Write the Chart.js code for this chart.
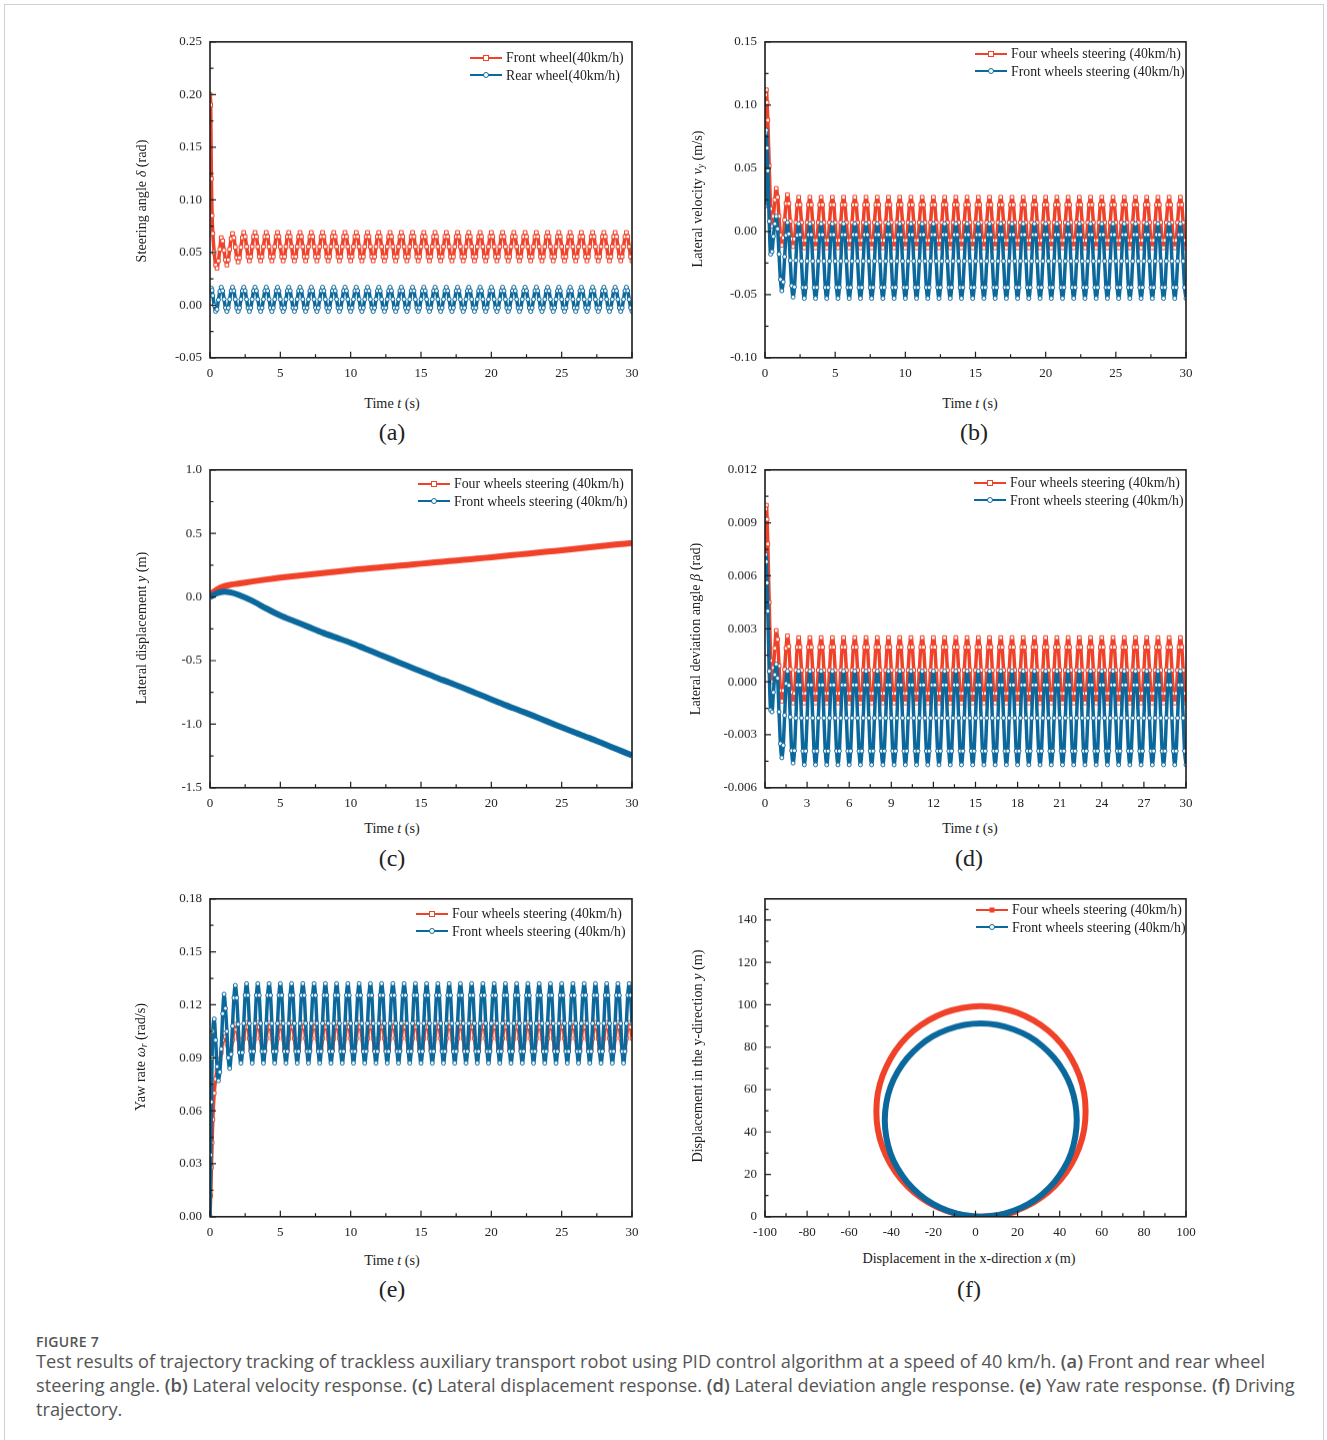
<!DOCTYPE html>
<html>
<head>
<meta charset="utf-8">
<script src="https://cdn.jsdelivr.net/npm/chart.js@4.4.1/dist/chart.umd.min.js"></script>
<style>
  body { margin:0; background:#fff; width:1327px; height:1440px; position:relative; overflow:hidden; font-family:"Liberation Serif", serif; }
  .box { position:absolute; left:4px; top:4px; width:1318px; height:1480px; border:1px solid #d0d0d0; }
  canvas { position:absolute; }
  .t { position:absolute; font-size:14.2px; color:#222; white-space:nowrap; transform:translate(-50%,-50%); }
  .yt { transform:translate(-50%,-50%) rotate(-90deg); }
  .t sub { font-size:9.5px; vertical-align:-2px; line-height:0; }
  .pl { position:absolute; font-size:24px; color:#222; transform:translate(-50%,-50%); }
  .lg { position:absolute; font-size:13.8px; color:#222; line-height:17.5px; }
  .lg div { display:flex; align-items:center; white-space:nowrap; height:17.5px; }
  .lg svg { margin-right:4px; }
  .cap { position:absolute; left:36px; font-family:"Open Sans", sans-serif; color:#555; white-space:nowrap; }
  .cap b { font-weight:600; }
</style>
</head>
<body>
<div class="box"></div>

<canvas id="ca"></canvas>
<canvas id="cb"></canvas>
<canvas id="cc"></canvas>
<canvas id="cd"></canvas>
<canvas id="ce"></canvas>
<canvas id="cf"></canvas>

<!-- axis titles -->
<div class="t yt" style="left:141px;top:201px">Steering angle <i>δ</i> (rad)</div>
<div class="t yt" style="left:697px;top:199px">Lateral velocity <i>v<sub>y</sub></i> (m/s)</div>
<div class="t yt" style="left:141px;top:628px">Lateral displacement <i>y</i> (m)</div>
<div class="t yt" style="left:695px;top:629px">Lateral deviation angle <i>β</i> (rad)</div>
<div class="t yt" style="left:140px;top:1057px">Yaw rate <i>ω<sub>r</sub></i> (rad/s)</div>
<div class="t yt" style="left:697px;top:1056px">Displacement in the y-direction <i>y</i> (m)</div>

<div class="t" style="left:392px;top:403px">Time <i>t</i> (s)</div>
<div class="t" style="left:970px;top:403px">Time <i>t</i> (s)</div>
<div class="t" style="left:392px;top:828px">Time <i>t</i> (s)</div>
<div class="t" style="left:970px;top:828px">Time <i>t</i> (s)</div>
<div class="t" style="left:392px;top:1260px">Time <i>t</i> (s)</div>
<div class="t" style="left:969px;top:1258px">Displacement in the x-direction <i>x</i> (m)</div>

<div class="pl" style="left:392px;top:432px">(a)</div>
<div class="pl" style="left:974px;top:432px">(b)</div>
<div class="pl" style="left:392px;top:858px">(c)</div>
<div class="pl" style="left:969px;top:858px">(d)</div>
<div class="pl" style="left:392px;top:1289px">(e)</div>
<div class="pl" style="left:969px;top:1289px">(f)</div>

<div class="cap" style="top:1332px;font-size:14px;font-weight:600;letter-spacing:0.3px">FIGURE 7</div>
<div class="cap" style="top:1349px;font-size:18.2px;line-height:24px">Test results of trajectory tracking of trackless auxiliary transport robot using PID control algorithm at a speed of 40 km/h. <b>(a)</b> Front and rear wheel<br>steering angle. <b>(b)</b> Lateral velocity response. <b>(c)</b> Lateral displacement response. <b>(d)</b> Lateral deviation angle response. <b>(e)</b> Yaw rate response. <b>(f)</b> Driving<br>trajectory.</div>

<script>
// sample instants (s), shared by panels a, b, d, e
const timeS = [
  0,0.05,0.1,0.15,0.2,0.3,0.4,0.5,0.6,0.7,
  0.8,0.9,1.0,1.1,1.2,1.3,1.4,1.5,1.6,1.7,1.8,1.9,2.0,2.1,2.2,2.3,
  2.4,2.5,2.6,2.7,2.8,2.9,3.0,3.1,3.2,3.3,3.4,3.5,3.6,3.7,3.8,3.9,
  4.0,4.1,4.2,4.3,4.4,4.5,4.6,4.7,4.8,4.9,5.0,5.1,5.2,5.3,5.4,5.5,
  5.6,5.7,5.8,5.9,6.0,6.1,6.2,6.3,6.4,6.5,6.6,6.7,6.8,6.9,7.0,7.1,
  7.2,7.3,7.4,7.5,7.6,7.7,7.8,7.9,8.0,8.1,8.2,8.3,8.4,8.5,8.6,8.7,
  8.8,8.9,9.0,9.1,9.2,9.3,9.4,9.5,9.6,9.7,9.8,9.9,10.0,10.1,10.2,10.3,
  10.4,10.5,10.6,10.7,10.8,10.9,11.0,11.1,11.2,11.3,11.4,11.5,11.6,11.7,11.8,11.9,
  12.0,12.1,12.2,12.3,12.4,12.5,12.6,12.7,12.8,12.9,13.0,13.1,13.2,13.3,13.4,13.5,
  13.6,13.7,13.8,13.9,14.0,14.1,14.2,14.3,14.4,14.5,14.6,14.7,14.8,14.9,15.0,15.1,
  15.2,15.3,15.4,15.5,15.6,15.7,15.8,15.9,16.0,16.1,16.2,16.3,16.4,16.5,16.6,16.7,
  16.8,16.9,17.0,17.1,17.2,17.3,17.4,17.5,17.6,17.7,17.8,17.9,18.0,18.1,18.2,18.3,
  18.4,18.5,18.6,18.7,18.8,18.9,19.0,19.1,19.2,19.3,19.4,19.5,19.6,19.7,19.8,19.9,
  20.0,20.1,20.2,20.3,20.4,20.5,20.6,20.7,20.8,20.9,21.0,21.1,21.2,21.3,21.4,21.5,
  21.6,21.7,21.8,21.9,22.0,22.1,22.2,22.3,22.4,22.5,22.6,22.7,22.8,22.9,23.0,23.1,
  23.2,23.3,23.4,23.5,23.6,23.7,23.8,23.9,24.0,24.1,24.2,24.3,24.4,24.5,24.6,24.7,
  24.8,24.9,25.0,25.1,25.2,25.3,25.4,25.5,25.6,25.7,25.8,25.9,26.0,26.1,26.2,26.3,
  26.4,26.5,26.6,26.7,26.8,26.9,27.0,27.1,27.2,27.3,27.4,27.5,27.6,27.7,27.8,27.9,
  28.0,28.1,28.2,28.3,28.4,28.5,28.6,28.7,28.8,28.9,29.0,29.1,29.2,29.3,29.4,29.5,
  29.6,29.7,29.8,29.9,30.0
];

// (a) steering angle (rad)
const aFront = [
  0.200,0.190,0.120,0.085,0.068,0.050,0.038,0.035,0.042,0.053,
  0.064,0.061,0.052,0.043,0.038,0.043,0.053,0.063,0.068,0.064,0.055,0.045,0.041,0.045,0.055,0.064,
  0.069,0.065,0.0555,0.046,0.042,0.046,0.0555,0.065,0.069,0.065,0.0555,0.046,0.042,0.046,0.0555,0.065,
  0.069,0.065,0.0555,0.046,0.042,0.046,0.0555,0.065,0.069,0.065,0.0555,0.046,0.042,0.046,0.0555,0.065,
  0.069,0.065,0.0555,0.046,0.042,0.046,0.0555,0.065,0.069,0.065,0.0555,0.046,0.042,0.046,0.0555,0.065,
  0.069,0.065,0.0555,0.046,0.042,0.046,0.0555,0.065,0.069,0.065,0.0555,0.046,0.042,0.046,0.0555,0.065,
  0.069,0.065,0.0555,0.046,0.042,0.046,0.0555,0.065,0.069,0.065,0.0555,0.046,0.042,0.046,0.0555,0.065,
  0.069,0.065,0.0555,0.046,0.042,0.046,0.0555,0.065,0.069,0.065,0.0555,0.046,0.042,0.046,0.0555,0.065,
  0.069,0.065,0.0555,0.046,0.042,0.046,0.0555,0.065,0.069,0.065,0.0555,0.046,0.042,0.046,0.0555,0.065,
  0.069,0.065,0.0555,0.046,0.042,0.046,0.0555,0.065,0.069,0.065,0.0555,0.046,0.042,0.046,0.0555,0.065,
  0.069,0.065,0.0555,0.046,0.042,0.046,0.0555,0.065,0.069,0.065,0.0555,0.046,0.042,0.046,0.0555,0.065,
  0.069,0.065,0.0555,0.046,0.042,0.046,0.0555,0.065,0.069,0.065,0.0555,0.046,0.042,0.046,0.0555,0.065,
  0.069,0.065,0.0555,0.046,0.042,0.046,0.0555,0.065,0.069,0.065,0.0555,0.046,0.042,0.046,0.0555,0.065,
  0.069,0.065,0.0555,0.046,0.042,0.046,0.0555,0.065,0.069,0.065,0.0555,0.046,0.042,0.046,0.0555,0.065,
  0.069,0.065,0.0555,0.046,0.042,0.046,0.0555,0.065,0.069,0.065,0.0555,0.046,0.042,0.046,0.0555,0.065,
  0.069,0.065,0.0555,0.046,0.042,0.046,0.0555,0.065,0.069,0.065,0.0555,0.046,0.042,0.046,0.0555,0.065,
  0.069,0.065,0.0555,0.046,0.042,0.046,0.0555,0.065,0.069,0.065,0.0555,0.046,0.042,0.046,0.0555,0.065,
  0.069,0.065,0.0555,0.046,0.042,0.046,0.0555,0.065,0.069,0.065,0.0555,0.046,0.042,0.046,0.0555,0.065,
  0.069,0.065,0.0555,0.046,0.042,0.046,0.0555,0.065,0.069,0.065,0.0555,0.046,0.042,0.046,0.0555,0.065,
  0.069,0.065,0.0555,0.046,0.042
];
const aRear = [
  0.010,0.014,0.016,0.014,0.009,0.000,-0.006,-0.004,0.005,0.013,
  0.017,0.0136,0.0055,-0.0026,-0.006,-0.0026,0.0055,0.0136,0.017,0.0136,0.0055,-0.0026,-0.006,-0.0026,0.0055,0.0136,
  0.017,0.0136,0.0055,-0.0026,-0.006,-0.0026,0.0055,0.0136,0.017,0.0136,0.0055,-0.0026,-0.006,-0.0026,0.0055,0.0136,
  0.017,0.0136,0.0055,-0.0026,-0.006,-0.0026,0.0055,0.0136,0.017,0.0136,0.0055,-0.0026,-0.006,-0.0026,0.0055,0.0136,
  0.017,0.0136,0.0055,-0.0026,-0.006,-0.0026,0.0055,0.0136,0.017,0.0136,0.0055,-0.0026,-0.006,-0.0026,0.0055,0.0136,
  0.017,0.0136,0.0055,-0.0026,-0.006,-0.0026,0.0055,0.0136,0.017,0.0136,0.0055,-0.0026,-0.006,-0.0026,0.0055,0.0136,
  0.017,0.0136,0.0055,-0.0026,-0.006,-0.0026,0.0055,0.0136,0.017,0.0136,0.0055,-0.0026,-0.006,-0.0026,0.0055,0.0136,
  0.017,0.0136,0.0055,-0.0026,-0.006,-0.0026,0.0055,0.0136,0.017,0.0136,0.0055,-0.0026,-0.006,-0.0026,0.0055,0.0136,
  0.017,0.0136,0.0055,-0.0026,-0.006,-0.0026,0.0055,0.0136,0.017,0.0136,0.0055,-0.0026,-0.006,-0.0026,0.0055,0.0136,
  0.017,0.0136,0.0055,-0.0026,-0.006,-0.0026,0.0055,0.0136,0.017,0.0136,0.0055,-0.0026,-0.006,-0.0026,0.0055,0.0136,
  0.017,0.0136,0.0055,-0.0026,-0.006,-0.0026,0.0055,0.0136,0.017,0.0136,0.0055,-0.0026,-0.006,-0.0026,0.0055,0.0136,
  0.017,0.0136,0.0055,-0.0026,-0.006,-0.0026,0.0055,0.0136,0.017,0.0136,0.0055,-0.0026,-0.006,-0.0026,0.0055,0.0136,
  0.017,0.0136,0.0055,-0.0026,-0.006,-0.0026,0.0055,0.0136,0.017,0.0136,0.0055,-0.0026,-0.006,-0.0026,0.0055,0.0136,
  0.017,0.0136,0.0055,-0.0026,-0.006,-0.0026,0.0055,0.0136,0.017,0.0136,0.0055,-0.0026,-0.006,-0.0026,0.0055,0.0136,
  0.017,0.0136,0.0055,-0.0026,-0.006,-0.0026,0.0055,0.0136,0.017,0.0136,0.0055,-0.0026,-0.006,-0.0026,0.0055,0.0136,
  0.017,0.0136,0.0055,-0.0026,-0.006,-0.0026,0.0055,0.0136,0.017,0.0136,0.0055,-0.0026,-0.006,-0.0026,0.0055,0.0136,
  0.017,0.0136,0.0055,-0.0026,-0.006,-0.0026,0.0055,0.0136,0.017,0.0136,0.0055,-0.0026,-0.006,-0.0026,0.0055,0.0136,
  0.017,0.0136,0.0055,-0.0026,-0.006,-0.0026,0.0055,0.0136,0.017,0.0136,0.0055,-0.0026,-0.006,-0.0026,0.0055,0.0136,
  0.017,0.0136,0.0055,-0.0026,-0.006,-0.0026,0.0055,0.0136,0.017,0.0136,0.0055,-0.0026,-0.006,-0.0026,0.0055,0.0136,
  0.017,0.0136,0.0055,-0.0026,-0.006
];

// (b) lateral velocity (m/s)
const bFour = [
  0.060,0.108,0.112,0.102,0.088,0.052,0.018,0.004,0.012,0.025,
  0.034,0.027,0.012,-0.003,-0.011,-0.005,0.009,0.022,0.029,0.022,0.008,-0.006,-0.012,-0.006,0.007,0.021,
  0.027,0.0211,0.007,-0.0071,-0.013,-0.0071,0.007,0.0211,0.027,0.0211,0.007,-0.0071,-0.013,-0.0071,0.007,0.0211,
  0.027,0.0211,0.007,-0.0071,-0.013,-0.0071,0.007,0.0211,0.027,0.0211,0.007,-0.0071,-0.013,-0.0071,0.007,0.0211,
  0.027,0.0211,0.007,-0.0071,-0.013,-0.0071,0.007,0.0211,0.027,0.0211,0.007,-0.0071,-0.013,-0.0071,0.007,0.0211,
  0.027,0.0211,0.007,-0.0071,-0.013,-0.0071,0.007,0.0211,0.027,0.0211,0.007,-0.0071,-0.013,-0.0071,0.007,0.0211,
  0.027,0.0211,0.007,-0.0071,-0.013,-0.0071,0.007,0.0211,0.027,0.0211,0.007,-0.0071,-0.013,-0.0071,0.007,0.0211,
  0.027,0.0211,0.007,-0.0071,-0.013,-0.0071,0.007,0.0211,0.027,0.0211,0.007,-0.0071,-0.013,-0.0071,0.007,0.0211,
  0.027,0.0211,0.007,-0.0071,-0.013,-0.0071,0.007,0.0211,0.027,0.0211,0.007,-0.0071,-0.013,-0.0071,0.007,0.0211,
  0.027,0.0211,0.007,-0.0071,-0.013,-0.0071,0.007,0.0211,0.027,0.0211,0.007,-0.0071,-0.013,-0.0071,0.007,0.0211,
  0.027,0.0211,0.007,-0.0071,-0.013,-0.0071,0.007,0.0211,0.027,0.0211,0.007,-0.0071,-0.013,-0.0071,0.007,0.0211,
  0.027,0.0211,0.007,-0.0071,-0.013,-0.0071,0.007,0.0211,0.027,0.0211,0.007,-0.0071,-0.013,-0.0071,0.007,0.0211,
  0.027,0.0211,0.007,-0.0071,-0.013,-0.0071,0.007,0.0211,0.027,0.0211,0.007,-0.0071,-0.013,-0.0071,0.007,0.0211,
  0.027,0.0211,0.007,-0.0071,-0.013,-0.0071,0.007,0.0211,0.027,0.0211,0.007,-0.0071,-0.013,-0.0071,0.007,0.0211,
  0.027,0.0211,0.007,-0.0071,-0.013,-0.0071,0.007,0.0211,0.027,0.0211,0.007,-0.0071,-0.013,-0.0071,0.007,0.0211,
  0.027,0.0211,0.007,-0.0071,-0.013,-0.0071,0.007,0.0211,0.027,0.0211,0.007,-0.0071,-0.013,-0.0071,0.007,0.0211,
  0.027,0.0211,0.007,-0.0071,-0.013,-0.0071,0.007,0.0211,0.027,0.0211,0.007,-0.0071,-0.013,-0.0071,0.007,0.0211,
  0.027,0.0211,0.007,-0.0071,-0.013,-0.0071,0.007,0.0211,0.027,0.0211,0.007,-0.0071,-0.013,-0.0071,0.007,0.0211,
  0.027,0.0211,0.007,-0.0071,-0.013,-0.0071,0.007,0.0211,0.027,0.0211,0.007,-0.0071,-0.013,-0.0071,0.007,0.0211,
  0.027,0.0211,0.007,-0.0071,-0.013
];
const bFront = [
  0.020,0.078,0.080,0.066,0.048,0.008,-0.018,-0.016,-0.004,0.006,
  0.012,0.002,-0.018,-0.038,-0.047,-0.040,-0.020,-0.003,0.007,-0.002,-0.023,-0.043,-0.052,-0.044,-0.023,-0.003,
  0.006,-0.0026,-0.0235,-0.0444,-0.053,-0.0444,-0.0235,-0.0026,0.006,-0.0026,-0.0235,-0.0444,-0.053,-0.0444,-0.0235,-0.0026,
  0.006,-0.0026,-0.0235,-0.0444,-0.053,-0.0444,-0.0235,-0.0026,0.006,-0.0026,-0.0235,-0.0444,-0.053,-0.0444,-0.0235,-0.0026,
  0.006,-0.0026,-0.0235,-0.0444,-0.053,-0.0444,-0.0235,-0.0026,0.006,-0.0026,-0.0235,-0.0444,-0.053,-0.0444,-0.0235,-0.0026,
  0.006,-0.0026,-0.0235,-0.0444,-0.053,-0.0444,-0.0235,-0.0026,0.006,-0.0026,-0.0235,-0.0444,-0.053,-0.0444,-0.0235,-0.0026,
  0.006,-0.0026,-0.0235,-0.0444,-0.053,-0.0444,-0.0235,-0.0026,0.006,-0.0026,-0.0235,-0.0444,-0.053,-0.0444,-0.0235,-0.0026,
  0.006,-0.0026,-0.0235,-0.0444,-0.053,-0.0444,-0.0235,-0.0026,0.006,-0.0026,-0.0235,-0.0444,-0.053,-0.0444,-0.0235,-0.0026,
  0.006,-0.0026,-0.0235,-0.0444,-0.053,-0.0444,-0.0235,-0.0026,0.006,-0.0026,-0.0235,-0.0444,-0.053,-0.0444,-0.0235,-0.0026,
  0.006,-0.0026,-0.0235,-0.0444,-0.053,-0.0444,-0.0235,-0.0026,0.006,-0.0026,-0.0235,-0.0444,-0.053,-0.0444,-0.0235,-0.0026,
  0.006,-0.0026,-0.0235,-0.0444,-0.053,-0.0444,-0.0235,-0.0026,0.006,-0.0026,-0.0235,-0.0444,-0.053,-0.0444,-0.0235,-0.0026,
  0.006,-0.0026,-0.0235,-0.0444,-0.053,-0.0444,-0.0235,-0.0026,0.006,-0.0026,-0.0235,-0.0444,-0.053,-0.0444,-0.0235,-0.0026,
  0.006,-0.0026,-0.0235,-0.0444,-0.053,-0.0444,-0.0235,-0.0026,0.006,-0.0026,-0.0235,-0.0444,-0.053,-0.0444,-0.0235,-0.0026,
  0.006,-0.0026,-0.0235,-0.0444,-0.053,-0.0444,-0.0235,-0.0026,0.006,-0.0026,-0.0235,-0.0444,-0.053,-0.0444,-0.0235,-0.0026,
  0.006,-0.0026,-0.0235,-0.0444,-0.053,-0.0444,-0.0235,-0.0026,0.006,-0.0026,-0.0235,-0.0444,-0.053,-0.0444,-0.0235,-0.0026,
  0.006,-0.0026,-0.0235,-0.0444,-0.053,-0.0444,-0.0235,-0.0026,0.006,-0.0026,-0.0235,-0.0444,-0.053,-0.0444,-0.0235,-0.0026,
  0.006,-0.0026,-0.0235,-0.0444,-0.053,-0.0444,-0.0235,-0.0026,0.006,-0.0026,-0.0235,-0.0444,-0.053,-0.0444,-0.0235,-0.0026,
  0.006,-0.0026,-0.0235,-0.0444,-0.053,-0.0444,-0.0235,-0.0026,0.006,-0.0026,-0.0235,-0.0444,-0.053,-0.0444,-0.0235,-0.0026,
  0.006,-0.0026,-0.0235,-0.0444,-0.053,-0.0444,-0.0235,-0.0026,0.006,-0.0026,-0.0235,-0.0444,-0.053,-0.0444,-0.0235,-0.0026,
  0.006,-0.0026,-0.0235,-0.0444,-0.053
];

// (c) lateral displacement (m)
const timeC = [0,0.5,1,1.5,2,3,4,5,6,7,8,9,10,11,12,13,14,15,16,17,18,19,20,21,22,23,24,25,26,27,28,29,30];
const cFour = [0.02,0.06,0.085,0.097,0.105,0.122,0.138,0.152,0.164,0.176,0.188,0.200,0.212,0.222,0.232,0.242,0.252,
  0.262,0.272,0.282,0.292,0.302,0.313,0.324,0.335,0.346,0.357,0.368,0.380,0.392,0.403,0.414,0.425];
const cFront = [0.0,0.03,0.042,0.035,0.018,-0.03,-0.09,-0.145,-0.19,-0.235,-0.28,-0.32,-0.36,-0.405,-0.45,-0.495,-0.54,
  -0.585,-0.63,-0.672,-0.715,-0.76,-0.805,-0.85,-0.892,-0.935,-0.98,-1.025,-1.068,-1.11,-1.155,-1.2,-1.245];

// (d) lateral deviation angle (rad)
const dFour = [
  0.0060,0.0098,0.0100,0.0092,0.0078,0.0045,0.0012,0.0000,0.0008,0.0019,
  0.0029,0.0024,0.0009,-0.0005,-0.0011,-0.0005,0.0007,0.0019,0.0026,0.0020,0.0007,-0.0006,-0.0012,-0.00066,0.00065,0.00196,
  0.0025,0.00196,0.00065,-0.00066,-0.0012,-0.00066,0.00065,0.00196,0.0025,0.00196,0.00065,-0.00066,-0.0012,-0.00066,0.00065,0.00196,
  0.0025,0.00196,0.00065,-0.00066,-0.0012,-0.00066,0.00065,0.00196,0.0025,0.00196,0.00065,-0.00066,-0.0012,-0.00066,0.00065,0.00196,
  0.0025,0.00196,0.00065,-0.00066,-0.0012,-0.00066,0.00065,0.00196,0.0025,0.00196,0.00065,-0.00066,-0.0012,-0.00066,0.00065,0.00196,
  0.0025,0.00196,0.00065,-0.00066,-0.0012,-0.00066,0.00065,0.00196,0.0025,0.00196,0.00065,-0.00066,-0.0012,-0.00066,0.00065,0.00196,
  0.0025,0.00196,0.00065,-0.00066,-0.0012,-0.00066,0.00065,0.00196,0.0025,0.00196,0.00065,-0.00066,-0.0012,-0.00066,0.00065,0.00196,
  0.0025,0.00196,0.00065,-0.00066,-0.0012,-0.00066,0.00065,0.00196,0.0025,0.00196,0.00065,-0.00066,-0.0012,-0.00066,0.00065,0.00196,
  0.0025,0.00196,0.00065,-0.00066,-0.0012,-0.00066,0.00065,0.00196,0.0025,0.00196,0.00065,-0.00066,-0.0012,-0.00066,0.00065,0.00196,
  0.0025,0.00196,0.00065,-0.00066,-0.0012,-0.00066,0.00065,0.00196,0.0025,0.00196,0.00065,-0.00066,-0.0012,-0.00066,0.00065,0.00196,
  0.0025,0.00196,0.00065,-0.00066,-0.0012,-0.00066,0.00065,0.00196,0.0025,0.00196,0.00065,-0.00066,-0.0012,-0.00066,0.00065,0.00196,
  0.0025,0.00196,0.00065,-0.00066,-0.0012,-0.00066,0.00065,0.00196,0.0025,0.00196,0.00065,-0.00066,-0.0012,-0.00066,0.00065,0.00196,
  0.0025,0.00196,0.00065,-0.00066,-0.0012,-0.00066,0.00065,0.00196,0.0025,0.00196,0.00065,-0.00066,-0.0012,-0.00066,0.00065,0.00196,
  0.0025,0.00196,0.00065,-0.00066,-0.0012,-0.00066,0.00065,0.00196,0.0025,0.00196,0.00065,-0.00066,-0.0012,-0.00066,0.00065,0.00196,
  0.0025,0.00196,0.00065,-0.00066,-0.0012,-0.00066,0.00065,0.00196,0.0025,0.00196,0.00065,-0.00066,-0.0012,-0.00066,0.00065,0.00196,
  0.0025,0.00196,0.00065,-0.00066,-0.0012,-0.00066,0.00065,0.00196,0.0025,0.00196,0.00065,-0.00066,-0.0012,-0.00066,0.00065,0.00196,
  0.0025,0.00196,0.00065,-0.00066,-0.0012,-0.00066,0.00065,0.00196,0.0025,0.00196,0.00065,-0.00066,-0.0012,-0.00066,0.00065,0.00196,
  0.0025,0.00196,0.00065,-0.00066,-0.0012,-0.00066,0.00065,0.00196,0.0025,0.00196,0.00065,-0.00066,-0.0012,-0.00066,0.00065,0.00196,
  0.0025,0.00196,0.00065,-0.00066,-0.0012,-0.00066,0.00065,0.00196,0.0025,0.00196,0.00065,-0.00066,-0.0012,-0.00066,0.00065,0.00196,
  0.0025,0.00196,0.00065,-0.00066,-0.0012
];
const dFront = [
  0.0040,0.0072,0.0068,0.0056,0.0040,0.0006,-0.0016,-0.0017,-0.0006,0.0004,
  0.0010,0.0002,-0.0017,-0.0035,-0.0043,-0.0036,-0.0019,-0.0001,0.0006,-0.0002,-0.0020,-0.0039,-0.0046,-0.0039,-0.00205,-0.00018,
  0.0006,-0.00018,-0.00205,-0.00392,-0.0047,-0.00392,-0.00205,-0.00018,0.0006,-0.00018,-0.00205,-0.00392,-0.0047,-0.00392,-0.00205,-0.00018,
  0.0006,-0.00018,-0.00205,-0.00392,-0.0047,-0.00392,-0.00205,-0.00018,0.0006,-0.00018,-0.00205,-0.00392,-0.0047,-0.00392,-0.00205,-0.00018,
  0.0006,-0.00018,-0.00205,-0.00392,-0.0047,-0.00392,-0.00205,-0.00018,0.0006,-0.00018,-0.00205,-0.00392,-0.0047,-0.00392,-0.00205,-0.00018,
  0.0006,-0.00018,-0.00205,-0.00392,-0.0047,-0.00392,-0.00205,-0.00018,0.0006,-0.00018,-0.00205,-0.00392,-0.0047,-0.00392,-0.00205,-0.00018,
  0.0006,-0.00018,-0.00205,-0.00392,-0.0047,-0.00392,-0.00205,-0.00018,0.0006,-0.00018,-0.00205,-0.00392,-0.0047,-0.00392,-0.00205,-0.00018,
  0.0006,-0.00018,-0.00205,-0.00392,-0.0047,-0.00392,-0.00205,-0.00018,0.0006,-0.00018,-0.00205,-0.00392,-0.0047,-0.00392,-0.00205,-0.00018,
  0.0006,-0.00018,-0.00205,-0.00392,-0.0047,-0.00392,-0.00205,-0.00018,0.0006,-0.00018,-0.00205,-0.00392,-0.0047,-0.00392,-0.00205,-0.00018,
  0.0006,-0.00018,-0.00205,-0.00392,-0.0047,-0.00392,-0.00205,-0.00018,0.0006,-0.00018,-0.00205,-0.00392,-0.0047,-0.00392,-0.00205,-0.00018,
  0.0006,-0.00018,-0.00205,-0.00392,-0.0047,-0.00392,-0.00205,-0.00018,0.0006,-0.00018,-0.00205,-0.00392,-0.0047,-0.00392,-0.00205,-0.00018,
  0.0006,-0.00018,-0.00205,-0.00392,-0.0047,-0.00392,-0.00205,-0.00018,0.0006,-0.00018,-0.00205,-0.00392,-0.0047,-0.00392,-0.00205,-0.00018,
  0.0006,-0.00018,-0.00205,-0.00392,-0.0047,-0.00392,-0.00205,-0.00018,0.0006,-0.00018,-0.00205,-0.00392,-0.0047,-0.00392,-0.00205,-0.00018,
  0.0006,-0.00018,-0.00205,-0.00392,-0.0047,-0.00392,-0.00205,-0.00018,0.0006,-0.00018,-0.00205,-0.00392,-0.0047,-0.00392,-0.00205,-0.00018,
  0.0006,-0.00018,-0.00205,-0.00392,-0.0047,-0.00392,-0.00205,-0.00018,0.0006,-0.00018,-0.00205,-0.00392,-0.0047,-0.00392,-0.00205,-0.00018,
  0.0006,-0.00018,-0.00205,-0.00392,-0.0047,-0.00392,-0.00205,-0.00018,0.0006,-0.00018,-0.00205,-0.00392,-0.0047,-0.00392,-0.00205,-0.00018,
  0.0006,-0.00018,-0.00205,-0.00392,-0.0047,-0.00392,-0.00205,-0.00018,0.0006,-0.00018,-0.00205,-0.00392,-0.0047,-0.00392,-0.00205,-0.00018,
  0.0006,-0.00018,-0.00205,-0.00392,-0.0047,-0.00392,-0.00205,-0.00018,0.0006,-0.00018,-0.00205,-0.00392,-0.0047,-0.00392,-0.00205,-0.00018,
  0.0006,-0.00018,-0.00205,-0.00392,-0.0047,-0.00392,-0.00205,-0.00018,0.0006,-0.00018,-0.00205,-0.00392,-0.0047,-0.00392,-0.00205,-0.00018,
  0.0006,-0.00018,-0.00205,-0.00392,-0.0047
];

// (e) yaw rate (rad/s)
const eFour = [
  0.000,0.012,0.028,0.042,0.055,0.070,0.078,0.083,0.086,0.089,
  0.093,0.100,0.104,0.102,0.098,0.093,0.090,0.094,0.100,0.106,0.109,0.106,0.101,0.095,0.092,0.095,
  0.101,0.1074,0.110,0.1074,0.101,0.0946,0.092,0.0946,0.101,0.1074,0.110,0.1074,0.101,0.0946,0.092,0.0946,
  0.101,0.1074,0.110,0.1074,0.101,0.0946,0.092,0.0946,0.101,0.1074,0.110,0.1074,0.101,0.0946,0.092,0.0946,
  0.101,0.1074,0.110,0.1074,0.101,0.0946,0.092,0.0946,0.101,0.1074,0.110,0.1074,0.101,0.0946,0.092,0.0946,
  0.101,0.1074,0.110,0.1074,0.101,0.0946,0.092,0.0946,0.101,0.1074,0.110,0.1074,0.101,0.0946,0.092,0.0946,
  0.101,0.1074,0.110,0.1074,0.101,0.0946,0.092,0.0946,0.101,0.1074,0.110,0.1074,0.101,0.0946,0.092,0.0946,
  0.101,0.1074,0.110,0.1074,0.101,0.0946,0.092,0.0946,0.101,0.1074,0.110,0.1074,0.101,0.0946,0.092,0.0946,
  0.101,0.1074,0.110,0.1074,0.101,0.0946,0.092,0.0946,0.101,0.1074,0.110,0.1074,0.101,0.0946,0.092,0.0946,
  0.101,0.1074,0.110,0.1074,0.101,0.0946,0.092,0.0946,0.101,0.1074,0.110,0.1074,0.101,0.0946,0.092,0.0946,
  0.101,0.1074,0.110,0.1074,0.101,0.0946,0.092,0.0946,0.101,0.1074,0.110,0.1074,0.101,0.0946,0.092,0.0946,
  0.101,0.1074,0.110,0.1074,0.101,0.0946,0.092,0.0946,0.101,0.1074,0.110,0.1074,0.101,0.0946,0.092,0.0946,
  0.101,0.1074,0.110,0.1074,0.101,0.0946,0.092,0.0946,0.101,0.1074,0.110,0.1074,0.101,0.0946,0.092,0.0946,
  0.101,0.1074,0.110,0.1074,0.101,0.0946,0.092,0.0946,0.101,0.1074,0.110,0.1074,0.101,0.0946,0.092,0.0946,
  0.101,0.1074,0.110,0.1074,0.101,0.0946,0.092,0.0946,0.101,0.1074,0.110,0.1074,0.101,0.0946,0.092,0.0946,
  0.101,0.1074,0.110,0.1074,0.101,0.0946,0.092,0.0946,0.101,0.1074,0.110,0.1074,0.101,0.0946,0.092,0.0946,
  0.101,0.1074,0.110,0.1074,0.101,0.0946,0.092,0.0946,0.101,0.1074,0.110,0.1074,0.101,0.0946,0.092,0.0946,
  0.101,0.1074,0.110,0.1074,0.101,0.0946,0.092,0.0946,0.101,0.1074,0.110,0.1074,0.101,0.0946,0.092,0.0946,
  0.101,0.1074,0.110,0.1074,0.101,0.0946,0.092,0.0946,0.101,0.1074,0.110,0.1074,0.101,0.0946,0.092,0.0946,
  0.101,0.1074,0.110,0.1074,0.101
];
const eFront = [
  0.000,0.035,0.065,0.090,0.105,0.112,0.100,0.085,0.077,0.082,
  0.095,0.115,0.126,0.118,0.105,0.090,0.084,0.092,0.108,0.124,0.131,0.124,0.109,0.093,0.087,0.093,
  0.1095,0.1254,0.132,0.1254,0.1095,0.0936,0.087,0.0936,0.1095,0.1254,0.132,0.1254,0.1095,0.0936,0.087,0.0936,
  0.1095,0.1254,0.132,0.1254,0.1095,0.0936,0.087,0.0936,0.1095,0.1254,0.132,0.1254,0.1095,0.0936,0.087,0.0936,
  0.1095,0.1254,0.132,0.1254,0.1095,0.0936,0.087,0.0936,0.1095,0.1254,0.132,0.1254,0.1095,0.0936,0.087,0.0936,
  0.1095,0.1254,0.132,0.1254,0.1095,0.0936,0.087,0.0936,0.1095,0.1254,0.132,0.1254,0.1095,0.0936,0.087,0.0936,
  0.1095,0.1254,0.132,0.1254,0.1095,0.0936,0.087,0.0936,0.1095,0.1254,0.132,0.1254,0.1095,0.0936,0.087,0.0936,
  0.1095,0.1254,0.132,0.1254,0.1095,0.0936,0.087,0.0936,0.1095,0.1254,0.132,0.1254,0.1095,0.0936,0.087,0.0936,
  0.1095,0.1254,0.132,0.1254,0.1095,0.0936,0.087,0.0936,0.1095,0.1254,0.132,0.1254,0.1095,0.0936,0.087,0.0936,
  0.1095,0.1254,0.132,0.1254,0.1095,0.0936,0.087,0.0936,0.1095,0.1254,0.132,0.1254,0.1095,0.0936,0.087,0.0936,
  0.1095,0.1254,0.132,0.1254,0.1095,0.0936,0.087,0.0936,0.1095,0.1254,0.132,0.1254,0.1095,0.0936,0.087,0.0936,
  0.1095,0.1254,0.132,0.1254,0.1095,0.0936,0.087,0.0936,0.1095,0.1254,0.132,0.1254,0.1095,0.0936,0.087,0.0936,
  0.1095,0.1254,0.132,0.1254,0.1095,0.0936,0.087,0.0936,0.1095,0.1254,0.132,0.1254,0.1095,0.0936,0.087,0.0936,
  0.1095,0.1254,0.132,0.1254,0.1095,0.0936,0.087,0.0936,0.1095,0.1254,0.132,0.1254,0.1095,0.0936,0.087,0.0936,
  0.1095,0.1254,0.132,0.1254,0.1095,0.0936,0.087,0.0936,0.1095,0.1254,0.132,0.1254,0.1095,0.0936,0.087,0.0936,
  0.1095,0.1254,0.132,0.1254,0.1095,0.0936,0.087,0.0936,0.1095,0.1254,0.132,0.1254,0.1095,0.0936,0.087,0.0936,
  0.1095,0.1254,0.132,0.1254,0.1095,0.0936,0.087,0.0936,0.1095,0.1254,0.132,0.1254,0.1095,0.0936,0.087,0.0936,
  0.1095,0.1254,0.132,0.1254,0.1095,0.0936,0.087,0.0936,0.1095,0.1254,0.132,0.1254,0.1095,0.0936,0.087,0.0936,
  0.1095,0.1254,0.132,0.1254,0.1095,0.0936,0.087,0.0936,0.1095,0.1254,0.132,0.1254,0.1095,0.0936,0.087,0.0936,
  0.1095,0.1254,0.132,0.1254,0.1095
];

// (f) driving trajectory (m)
const fFourX = [2.6,11.2,19.6,27.5,34.6,40.7,45.6,49.3,51.6,52.3,51.6,49.3,45.6,40.7,34.6,27.5,19.6,11.2,2.6,
  -6.0,-14.4,-22.3,-29.4,-35.5,-40.4,-44.1,-46.4,-47.1,-46.4,-44.1,-40.4,-35.5,-29.4,-22.3,-14.4,-6.0,2.6,11.4,19.9];
const fFourY = [0,0.8,3.0,6.7,11.6,17.8,24.9,32.7,41.1,49.7,58.3,66.7,74.6,81.7,87.8,92.7,96.4,98.6,99.4,
  98.6,96.4,92.7,87.8,81.7,74.6,66.7,58.3,49.7,41.1,32.7,24.9,17.8,11.6,6.7,3.0,0.8,0,0.6,2.6];
const fFrontX = [2.5,10.4,18.1,25.3,31.8,37.4,42.0,45.4,47.4,48.1,47.4,45.4,42.0,37.4,31.8,25.3,18.1,10.4,2.5,
  -5.4,-13.1,-20.3,-26.8,-32.4,-37.0,-40.4,-42.4,-43.1,-42.4,-40.4,-37.0,-32.4,-26.8,-20.3,-13.1,-5.4,2.5];
const fFrontY = [0,0.7,2.8,6.1,10.7,16.3,22.8,30.0,37.7,45.6,53.5,61.2,68.4,74.9,80.5,85.1,88.4,90.5,91.2,
  90.5,88.4,85.1,80.5,74.9,68.4,61.2,53.5,45.6,37.7,30.0,22.8,16.3,10.7,6.1,2.8,0.7,0];

// tick values
const time5Ticks = [0,5,10,15,20,25,30];
const time3Ticks = [0,3,6,9,12,15,18,21,24,27,30];
const aYTicks = [-0.05,0,0.05,0.10,0.15,0.20,0.25];
const bYTicks = [-0.10,-0.05,0,0.05,0.10,0.15];
const cYTicks = [-1.5,-1.0,-0.5,0,0.5,1.0];
const dYTicks = [-0.006,-0.003,0,0.003,0.006,0.009,0.012];
const eYTicks = [0,0.03,0.06,0.09,0.12,0.15,0.18];
const fXTicks = [-100,-80,-60,-40,-20,0,20,40,60,80,100];
const fYTicks = [0,20,40,60,80,100,120,140];

const RED = '#ef4229';
const BLUE = '#0b689c';
const FONT = { family: 'Liberation Serif', size: 13 };

const pts = (xs, ys) => xs.map((x, i) => ({ x: x, y: ys[i] }));

function wave(label, xs, ys, color, style, order) {
  return {
    label: label, data: pts(xs, ys), order: order,
    borderColor: color, borderWidth: 3.5,
    pointStyle: style, pointRadius: style === 'rect' ? 2.6 : 2,
    pointBorderColor: color, pointBackgroundColor: '#fff', pointBorderWidth: 1,
    cubicInterpolationMode: 'monotone'
  };
}
function band(label, xs, ys, color, order, tension) {
  return {
    label: label, data: pts(xs, ys), order: order,
    borderColor: color, borderWidth: 6, pointRadius: 0,
    tension: tension
  };
}

function mids(arr) {
  const out = [];
  for (let i = 0; i < arr.length - 1; i++) out.push((arr[i] + arr[i + 1]) / 2);
  return out;
}

function makePanel(id, area, xMaj, yMaj, xDec, yDec, yMax, datasets) {
  const cv = document.getElementById(id);
  const W = area[2] - area[0] + 110, H = area[3] - area[1] + 42;
  cv.width = W; cv.height = H;
  cv.style.left = (area[0] - 90) + 'px';
  cv.style.top = (area[1] - 12) + 'px';

  // inward major/minor ticks plus a closed frame round the plot
  const axisTicks = {
    id: 'axisTicks',
    afterDraw(chart) {
      const { ctx, chartArea: a, scales: { x, y } } = chart;
      const yAll = yMax > yMaj[yMaj.length - 1] ? yMaj.concat([yMax]) : yMaj;
      ctx.save();
      ctx.strokeStyle = '#1c1c1c';
      ctx.lineWidth = 1.2;
      ctx.beginPath();
      xMaj.forEach(v => { const p = x.getPixelForValue(v); ctx.moveTo(p, a.bottom); ctx.lineTo(p, a.bottom - 6); });
      mids(xMaj).forEach(v => { const p = x.getPixelForValue(v); ctx.moveTo(p, a.bottom); ctx.lineTo(p, a.bottom - 3.5); });
      yMaj.forEach(v => { const p = y.getPixelForValue(v); ctx.moveTo(a.left, p); ctx.lineTo(a.left + 6, p); });
      mids(yAll).forEach(v => { const p = y.getPixelForValue(v); ctx.moveTo(a.left, p); ctx.lineTo(a.left + 3.5, p); });
      ctx.stroke();
      ctx.lineWidth = 1.6;
      ctx.strokeRect(a.left, a.top, a.right - a.left, a.bottom - a.top);
      ctx.restore();
    }
  };

  const chart = new Chart(cv, {
    type: 'line',
    data: { datasets: datasets },
    plugins: [axisTicks],
    options: {
      responsive: false, maintainAspectRatio: false, animation: false, devicePixelRatio: 1,
      layout: { padding: { top: 12, right: 20, left: 0, bottom: 0 } },
      plugins: { legend: { display: false }, tooltip: { enabled: false } },
      scales: {
        x: {
          type: 'linear', min: xMaj[0], max: xMaj[xMaj.length - 1],
          afterBuildTicks: s => { s.ticks = xMaj.map(v => ({ value: v })); },
          afterFit: s => { s.height = 30; },
          grid: { display: false, drawTicks: false }, border: { display: false },
          ticks: { padding: 8, font: FONT, color: '#222', maxRotation: 0, autoSkip: false,
                   callback: v => v.toFixed(xDec) }
        },
        y: {
          type: 'linear', min: yMaj[0], max: yMax,
          afterBuildTicks: s => { s.ticks = yMaj.map(v => ({ value: v })); },
          afterFit: s => { s.width = 90; },
          grid: { display: false, drawTicks: false }, border: { display: false },
          ticks: { padding: 8, font: FONT, color: '#222', autoSkip: false,
                   callback: v => v.toFixed(yDec) }
        }
      }
    }
  });

  // nudge the canvas so the plot box lands exactly on the target area
  const ca = chart.chartArea;
  const dTop = ca.top - 12, dBot = (H - 30) - ca.bottom;
  const dLeft = ca.left - 90, dRight = (W - 20) - ca.right;
  if (Math.abs(dTop) + Math.abs(dBot) + Math.abs(dLeft) + Math.abs(dRight) > 0.5) {
    cv.style.left = (area[0] - 90 - dLeft) + 'px';
    cv.style.top = (area[1] - 12 - dTop) + 'px';
    chart.resize(W + dLeft + dRight, H + dTop + dBot);
  }
  return chart;
}

makePanel('ca', [210, 42, 632, 357], time5Ticks, aYTicks, 0, 2, 0.25, [
  wave('Front wheel(40km/h)', timeS, aFront, RED, 'rect', 2),
  wave('Rear wheel(40km/h)', timeS, aRear, BLUE, 'circle', 1)
]);
makePanel('cb', [765, 42, 1186, 357], time5Ticks, bYTicks, 0, 2, 0.15, [
  wave('Four wheels steering (40km/h)', timeS, bFour, RED, 'rect', 2),
  wave('Front wheels steering (40km/h)', timeS, bFront, BLUE, 'circle', 1)
]);
makePanel('cc', [210, 470, 632, 787], time5Ticks, cYTicks, 0, 1, 1.0, [
  band('Four wheels steering (40km/h)', timeC, cFour, RED, 2, 0.3),
  band('Front wheels steering (40km/h)', timeC, cFront, BLUE, 1, 0.3)
]);
makePanel('cd', [765, 470, 1186, 787], time3Ticks, dYTicks, 0, 3, 0.012, [
  wave('Four wheels steering (40km/h)', timeS, dFour, RED, 'rect', 2),
  wave('Front wheels steering (40km/h)', timeS, dFront, BLUE, 'circle', 1)
]);
makePanel('ce', [210, 899, 632, 1216], time5Ticks, eYTicks, 0, 2, 0.18, [
  wave('Four wheels steering (40km/h)', timeS, eFour, RED, 'rect', 2),
  wave('Front wheels steering (40km/h)', timeS, eFront, BLUE, 'circle', 1)
]);
makePanel('cf', [765, 899, 1186, 1216], fXTicks, fYTicks, 0, 0, 150, [
  band('Four wheels steering (40km/h)', fFourX, fFourY, RED, 2, 0.4),
  band('Front wheels steering (40km/h)', fFrontX, fFrontY, BLUE, 1, 0.4)
]);

// legends
function sym(color, shape) {
  const m = shape === 'rect'
    ? '<rect x="13.5" y="2.5" width="5" height="5" fill="#fff" stroke="' + color + '" stroke-width="1"/>'
    : shape === 'filled'
    ? '<rect x="13.5" y="2.5" width="5" height="5" fill="' + color + '"/>'
    : '<circle cx="16" cy="5" r="2.5" fill="#fff" stroke="' + color + '" stroke-width="1"/>';
  return '<svg width="32" height="10"><line x1="0" y1="5" x2="32" y2="5" stroke="' + color + '" stroke-width="2"/>' + m + '</svg>';
}
function legend(left, top, rows) {
  const d = document.createElement('div');
  d.className = 'lg';
  d.style.left = left + 'px';
  d.style.top = top + 'px';
  d.innerHTML = rows.map(r => '<div>' + sym(r[1], r[2]) + '<span>' + r[0] + '</span></div>').join('');
  document.body.appendChild(d);
}
legend(470, 49, [['Front wheel(40km/h)', RED, 'rect'], ['Rear wheel(40km/h)', BLUE, 'circle']]);
legend(975, 45, [['Four wheels steering (40km/h)', RED, 'rect'], ['Front wheels steering (40km/h)', BLUE, 'circle']]);
legend(418, 475, [['Four wheels steering (40km/h)', RED, 'rect'], ['Front wheels steering (40km/h)', BLUE, 'circle']]);
legend(974, 474, [['Four wheels steering (40km/h)', RED, 'rect'], ['Front wheels steering (40km/h)', BLUE, 'circle']]);
legend(416, 905, [['Four wheels steering (40km/h)', RED, 'rect'], ['Front wheels steering (40km/h)', BLUE, 'circle']]);
legend(976, 901, [['Four wheels steering (40km/h)', RED, 'filled'], ['Front wheels steering (40km/h)', BLUE, 'circle']]);
</script>
</body>
</html>
